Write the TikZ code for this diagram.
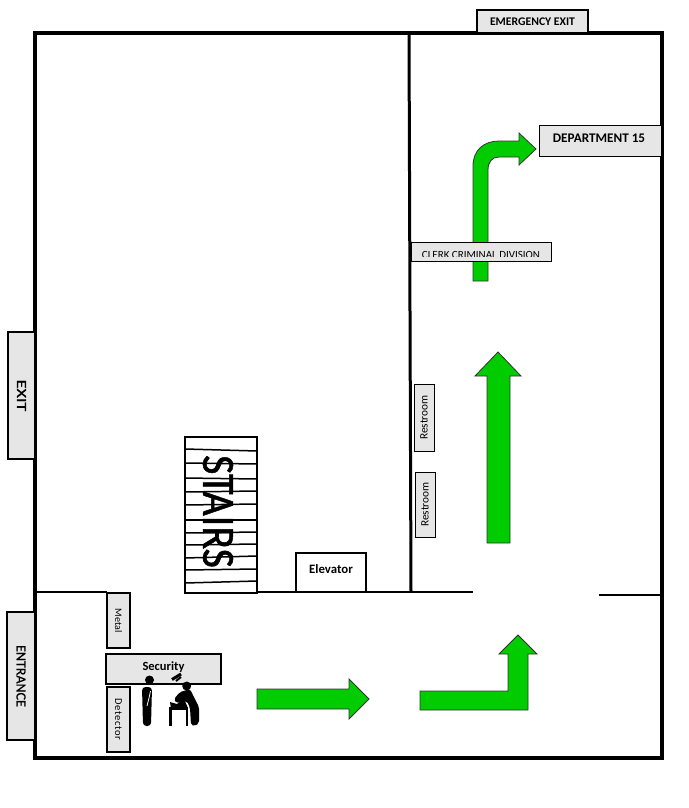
\documentclass[tikz,border=0pt]{standalone}
\usepackage{fontspec}
\setmainfont{Carlito}
\usepackage{tikz}
\definecolor{signgray}{HTML}{E6E6E6}
\definecolor{arrowgreen}{HTML}{00CC00}

\begin{document}
\begin{tikzpicture}[x=1pt, y=-1pt]
  \tikzstyle{wall}=[line width=4pt]
  \tikzstyle{sign}=[draw, fill=signgray, line width=2pt, inner sep=0pt]
  \tikzstyle{thinsign}=[sign, line width=1pt]
  \tikzstyle{walkway}=[draw=black!80, fill=arrowgreen, line width=0.8pt, line join=miter]
  \useasboundingbox (0,0) rectangle (688,808);

  % walkway arrows
  \draw[walkway] (473,281) -- (473,166) .. controls (473,150) and (484,141) .. (499,141) -- (519,141) -- (519,133) -- (536,149) -- (519,165) -- (519,157) -- (499,157) .. controls (492,157) and (488,162) .. (488,170) -- (488,281) -- cycle;
  \draw[walkway] (487,543) -- (487,376) -- (475,376) -- (498,352) -- (521,376) -- (510,376) -- (510,543) -- cycle;
  \draw[walkway] (257,689) -- (349,689) -- (349,679) -- (369,699) -- (349,719) -- (349,709) -- (257,709) -- cycle;
  \draw[walkway] (420,691) -- (508,691) -- (508,654) -- (499,654) -- (518,635) -- (537,654) -- (528,654) -- (528,710) -- (420,710) -- cycle;

  % outer and inner walls
  \draw[wall] (35,33) rectangle (662,758);
  \draw[line width=3pt] (409,33) -- (411,592);
  \draw[line width=2.5pt] (35,592) -- (107,592);
  \draw[line width=2.5pt] (257,592) -- (473,592);
  \draw[line width=2.5pt] (599,595) -- (662,595);

  % signs on the walls
  \node (emergency) at (532.5,21.5) [sign, minimum width=111, minimum height=23, font=\bfseries\fontsize{11.7}{12}\selectfont] {EMERGENCY EXIT};
  \node (exit) at (21.5,395.5) [sign, rotate=-90, minimum width=127, minimum height=27, line width=2.5pt, font=\fontsize{14}{14}\selectfont] {\addfontfeature{FakeBold=0.6}\scalebox{1.3}[1]{EXIT}};
  \node (entrance) at (21,676) [sign, rotate=-90, minimum width=128, minimum height=28, line width=2.5pt, font=\fontsize{14}{14}\selectfont] {\addfontfeature{FakeBold=0.6}ENTRANCE};
  \node (dept) at (600,140.5) [thinsign, minimum width=122, minimum height=31] {};
  \node (depttext) at (599,138) [font=\bfseries\fontsize{13.2}{14}\selectfont, inner sep=0pt] {DEPARTMENT 15};

  % clerk sign, its text is cut off low down
  \node (clerk) at (481,251.5) [thinsign, minimum width=140, minimum height=19] {};
  \begin{scope}
    \clip (412,243) rectangle (550,256.5);
    \node (clerktext) at (481,258) [anchor=base, font=\fontsize{11}{11}\selectfont, inner sep=0pt] {CLERK CRIMINAL DIVISION};
  \end{scope}

  % restrooms
  \node (rest1) at (424,417.5) [thinsign, rotate=90, minimum width=67, minimum height=20, font=\fontsize{11.3}{12}\selectfont] {Restroom};
  \node (rest2) at (425,504.5) [thinsign, rotate=90, minimum width=65, minimum height=20, font=\fontsize{11.3}{12}\selectfont] {Restroom};

  % stairs
  \node (stairs) at (221,515) [draw, fill=white, line width=2.5pt, rotate=-90, minimum width=156, minimum height=72] {};
  \node (stairstext) at (218,511.5) [rotate=-90, inner sep=0pt, font=\fontsize{46}{46}\selectfont] {\addfontfeature{FakeBold=1.2}\scalebox{0.915}[1]{STAIRS}};
  \foreach \ya/\yb in {449/451, 463/464, 478/479, 492/491, 505/504, 520/520, 533/532, 545/544, 558/556, 570/569, 583/581} {
    \draw[line width=1.5pt] (185,\ya) -- (257,\yb);
  }

  % elevator
  \node (elevator) at (331,572.5) [sign, fill=white, line width=2.5pt, minimum width=70, minimum height=39, font=\bfseries\fontsize{12.8}{13}\selectfont, text depth=6pt] {Elevator};

  % security and metal detector
  \node (metal) at (118.5,620.5) [sign, rotate=-90, minimum width=55, minimum height=23, font=\fontsize{10}{10}\selectfont] {Metal};
  \node (detector) at (118.5,719.5) [sign, rotate=-90, minimum width=65, minimum height=23, font=\fontsize{10.5}{11}\selectfont] {\addfontfeature{LetterSpace=6}Detector};
  \node (security) at (163.5,669) [sign, minimum width=115, minimum height=30, font=\bfseries\fontsize{12.5}{13}\selectfont, text depth=6pt] {Security};

  % person waiting
  \fill (149.5,680) circle (4.5);
  \fill[rounded corners=3.5] (142,687) -- (152,687) -- (151,726) -- (143,726) -- cycle;
  \draw[white, line width=0.8pt] (150.5,691) -- (149,698) -- (147,706);

  % guard and table
  \draw[line width=3pt] (172,679.5) -- (181,674);
  \draw[line width=2pt] (176,681) -- (181,677);
  \fill (186.7,686) circle (4.5);
  \fill[rounded corners=2] (180,692) -- (190,689) -- (199,707) -- (199,723) -- (195,726) -- (191,725) -- (190,708) -- (187,701) -- (176,703) -- (174,699) -- cycle;
  \fill (170,702) -- (177,704) -- (184,699) -- (188,708) -- (171,709) -- cycle;
  \draw[line width=2.8pt] (170.5,726) -- (170.5,708.5) -- (187,708.5) -- (187,726);
\end{tikzpicture}
\end{document}
